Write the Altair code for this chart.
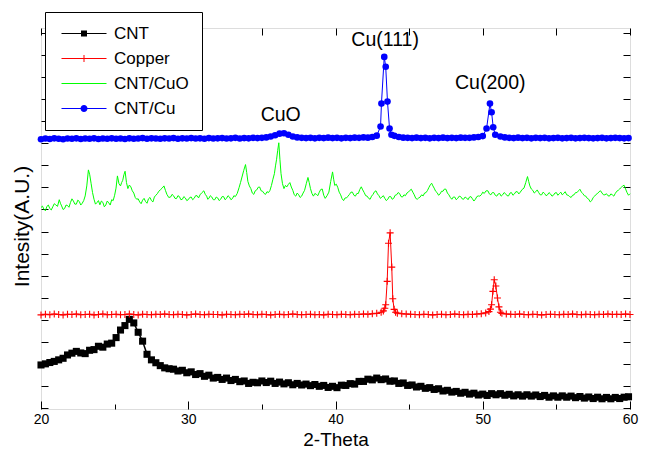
import altair as alt
import numpy as np
import pandas as pd

FONT = "Liberation Sans"
W, H = 589, 381

series_names = ["CNT", "Copper", "CNT/CuO", "CNT/Cu"]
series_colors = ["#000000", "#ff0000", "#00ff00", "#0000ff"]

x_major = [20, 30, 40, 50, 60]
x_minor = [25, 35, 45, 55]
x_top = [20, 25, 30, 35, 40, 45, 50, 55, 60]
y_ticks = [-0.1, 0.89, 1.89, 2.88, 3.87, 4.87, 5.86, 6.85, 7.85, 8.84, 9.83,
           10.83, 11.82, 12.81, 13.81, 14.8, 15.79, 16.79]


def grid(a, b, s):
    return [round(float(v), 2) for v in np.arange(a, b + s / 2, s)]


# CNT (scan step 0.3 from 20.0)
cnt_y = [
    1.85, 1.90, 1.96, 2.01, 2.08, 2.15, 2.30, 2.38, 2.46, 2.39,
    2.36, 2.51, 2.54, 2.69, 2.65, 2.79, 2.83, 3.08, 3.42, 3.62,
    3.90, 3.74, 3.32, 2.92, 2.33, 2.08, 1.95, 1.82, 1.72, 1.68,
    1.66, 1.58, 1.61, 1.50, 1.54, 1.42, 1.46, 1.34, 1.39, 1.26,
    1.29, 1.20, 1.26, 1.15, 1.20, 1.10, 1.13, 1.02, 1.07, 1.05,
    1.13, 1.06, 1.12, 1.02, 1.08, 1.00, 1.05, 0.96, 1.02, 0.95,
    0.99, 0.92, 0.97, 0.89, 0.93, 0.84, 0.89, 0.83, 0.94, 0.93,
    1.01, 0.99, 1.11, 1.11, 1.21, 1.18, 1.26, 1.19, 1.22, 1.12,
    1.13, 1.02, 1.04, 0.93, 0.95, 0.86, 0.89, 0.80, 0.83, 0.75,
    0.78, 0.68, 0.71, 0.63, 0.66, 0.58, 0.62, 0.54, 0.58, 0.50,
    0.54, 0.48, 0.56, 0.51, 0.56, 0.49, 0.53, 0.46, 0.51, 0.45,
    0.51, 0.45, 0.50, 0.43, 0.48, 0.40, 0.46, 0.40, 0.46, 0.40,
    0.45, 0.38, 0.43, 0.36, 0.41, 0.34, 0.40, 0.33, 0.39, 0.33,
    0.39, 0.34, 0.40, 0.42,
]
cnt_x = grid(20.0, 59.9, 0.3)

# Copper
cu_a_y = [
    4.10, 4.13, 4.11, 4.14, 4.12, 4.10, 4.13, 4.12, 4.14, 4.11,
    4.12, 4.13, 4.10, 4.12, 4.14, 4.11, 4.12, 4.13, 4.11, 4.12,
    4.14, 4.12, 4.10, 4.13, 4.12, 4.11, 4.13, 4.12, 4.14, 4.12,
    4.11, 4.13, 4.12, 4.10, 4.12, 4.14, 4.12, 4.11, 4.13, 4.12,
    4.12, 4.10, 4.13, 4.12, 4.11, 4.13, 4.12, 4.14, 4.12, 4.11,
    4.13, 4.12, 4.10, 4.12, 4.13, 4.11, 4.12, 4.14, 4.12, 4.11,
    4.12, 4.13, 4.11, 4.12, 4.10, 4.13, 4.12, 4.11, 4.13, 4.12,
    4.11, 4.13, 4.12, 4.14, 4.13, 4.15, 4.17, 4.22,
]
cu_p1_x = [43.25, 43.35, 43.41, 43.51, 43.60, 43.71, 43.82, 43.89, 43.98, 44.08]
cu_p1_y = [4.28, 4.40, 4.56, 5.61, 7.32, 7.79, 6.25, 4.83, 4.35, 4.22]
cu_b_y = [4.18, 4.15, 4.14, 4.13, 4.12, 4.11, 4.13, 4.12, 4.10, 4.12, 4.13,
          4.11, 4.12, 4.14, 4.12, 4.11, 4.13, 4.12, 4.14, 4.15, 4.19]
cu_p2_x = [50.42, 50.52, 50.60, 50.69, 50.78, 50.89, 51.00, 51.10, 51.20]
cu_p2_y = [4.25, 4.36, 4.56, 5.16, 5.68, 5.40, 4.86, 4.46, 4.22]
cu_c_y = [4.17, 4.14, 4.13, 4.12, 4.14, 4.12, 4.11, 4.13, 4.12, 4.10,
          4.12, 4.13, 4.12, 4.11, 4.13, 4.12, 4.14, 4.12, 4.11, 4.13,
          4.12, 4.11, 4.13, 4.12, 4.14, 4.12, 4.13, 4.12, 4.14, 4.12]

# CNT/CuO (main readings)
cuo_x = [
    20.0, 20.2, 20.4, 20.6, 20.8, 21.0, 21.24, 21.4, 21.6, 21.8,
    22.0, 22.2, 22.4, 22.6, 22.8, 23.0, 23.22, 23.4, 23.6, 23.8,
    24.0, 24.2, 24.4, 24.6, 24.8, 25.0, 25.19, 25.4, 25.55, 25.71,
    25.9, 26.1, 26.3, 26.5, 26.7, 26.9, 27.1, 27.3, 27.5, 27.7,
    27.9, 28.1, 28.35, 28.55, 28.8, 29.0, 29.2, 29.4, 29.6, 29.8,
    30.0, 30.2, 30.4, 30.6, 30.8, 31.06, 31.25, 31.4, 31.6, 31.8,
    32.0, 32.2, 32.4, 32.6, 32.8, 33.0, 33.2, 33.45, 33.65, 33.89,
    34.05, 34.25, 34.45, 34.65, 34.85, 35.05, 35.25, 35.45, 35.65, 35.85,
    36.0, 36.15, 36.3, 36.5, 36.7, 36.9, 37.1, 37.3, 37.5, 37.7,
    37.9, 38.13, 38.3, 38.5, 38.7, 38.9, 39.1, 39.3, 39.55, 39.8,
    39.95, 40.15, 40.35, 40.55, 40.75, 40.95, 41.15, 41.35, 41.55, 41.75,
    41.95, 42.15, 42.35, 42.55, 42.75, 42.95, 43.15, 43.35, 43.55, 43.75,
    43.95, 44.15, 44.35, 44.55, 44.75, 44.95, 45.15, 45.35, 45.55, 45.75,
    45.95, 46.15, 46.35, 46.53, 46.7, 46.9, 47.1, 47.3, 47.5, 47.7,
    47.9, 48.1, 48.3, 48.5, 48.7, 48.9, 49.1, 49.3, 49.5, 49.7,
    49.9, 50.1, 50.35, 50.55, 50.75, 50.95, 51.15, 51.35, 51.55, 51.75,
    51.95, 52.15, 52.35, 52.55, 52.8, 53.04, 53.2, 53.4, 53.6, 53.8,
    54.0, 54.2, 54.4, 54.6, 54.8, 55.0, 55.2, 55.4, 55.6, 55.8,
    56.0, 56.2, 56.4, 56.6, 56.8, 57.0, 57.2, 57.4, 57.6, 57.8,
    58.0, 58.2, 58.4, 58.6, 58.8, 59.0, 59.2, 59.4, 59.6, 59.8,
    60.0,
]
cuo_y = [
    8.93, 8.85, 8.98, 8.88, 8.96, 9.05, 9.28, 9.00, 8.88, 9.02,
    9.15, 9.22, 9.08, 9.20, 9.12, 9.45, 10.62, 10.02, 9.30, 9.15,
    9.05, 9.16, 9.04, 9.14, 9.28, 9.48, 10.35, 9.90, 10.15, 10.56,
    9.78, 9.86, 9.58, 9.30, 9.18, 9.26, 9.20, 9.32, 9.24, 9.40,
    9.55, 9.72, 9.90, 9.52, 9.40, 9.46, 9.33, 9.42, 9.30, 9.36,
    9.28, 9.40, 9.34, 9.46, 9.50, 9.68, 9.44, 9.34, 9.40, 9.28,
    9.36, 9.30, 9.42, 9.34, 9.40, 9.33, 9.42, 9.82, 10.30, 10.86,
    10.10, 9.78, 9.52, 9.72, 9.85, 9.66, 9.52, 9.60, 9.92, 10.45,
    11.10, 11.84, 10.45, 9.78, 9.86, 10.05, 9.70, 9.44, 9.50, 9.44,
    9.70, 10.28, 9.78, 9.44, 9.52, 9.62, 9.76, 9.34, 9.62, 10.53,
    9.92, 9.84, 9.50, 9.24, 9.36, 9.52, 9.62, 9.44, 9.56, 9.86,
    9.60, 9.44, 9.30, 9.52, 9.68, 9.46, 9.40, 9.34, 9.30, 9.42,
    9.34, 9.50, 9.56, 9.40, 9.46, 9.62, 9.75, 9.50, 9.30, 9.40,
    9.45, 9.60, 9.84, 10.02, 9.80, 9.60, 9.54, 9.66, 9.75, 9.50,
    9.30, 9.40, 9.34, 9.42, 9.30, 9.36, 9.40, 9.32, 9.30, 9.45,
    9.50, 9.56, 9.68, 9.50, 9.60, 9.44, 9.56, 9.50, 9.55, 9.45,
    9.60, 9.54, 9.64, 9.62, 9.80, 10.32, 9.90, 9.70, 9.64, 9.60,
    9.50, 9.56, 9.50, 9.54, 9.48, 9.60, 9.55, 9.50, 9.64, 9.48,
    9.38, 9.50, 9.60, 9.75, 9.55, 9.44, 9.30, 9.24, 9.44, 9.56,
    9.68, 9.50, 9.55, 9.44, 9.50, 9.56, 9.70, 9.83, 9.93, 9.60,
    9.55,
]
# CNT/CuO readings between the main readings (noise)
cuo_mid_y = [
    8.99, 8.78, 9.04, 8.82, 9.10, 8.98, 9.12, 8.84, 9.04, 8.94,
    9.32, 9.08, 9.26, 9.04, 9.24, 9.90, 10.40, 9.60, 9.08, 9.24,
    9.22, 8.96, 9.22, 9.04, 9.24, 9.80, 10.00, 10.05, 10.40, 10.05,
    9.94, 9.68, 9.38, 9.32, 9.10, 9.34, 9.12, 9.38, 9.18, 9.48,
    9.66, 9.80, 9.70, 9.38, 9.52, 9.34, 9.46, 9.28, 9.42, 9.24,
    9.38, 9.28, 9.46, 9.36, 9.60, 9.52, 9.30, 9.46, 9.28, 9.40,
    9.24, 9.42, 9.28, 9.46, 9.28, 9.46, 9.56, 10.05, 10.60, 10.50,
    9.90, 9.58, 9.68, 9.84, 9.68, 9.56, 9.64, 9.70, 10.20, 10.80,
    11.50, 11.10, 10.00, 9.92, 9.97, 9.85, 9.50, 9.58, 9.38, 9.58,
    10.00, 10.05, 9.56, 9.56, 9.46, 9.74, 9.48, 9.46, 10.10, 10.20,
    9.98, 9.62, 9.32, 9.36, 9.44, 9.62, 9.48, 9.56, 9.74, 9.72,
    9.46, 9.34, 9.44, 9.64, 9.54, 9.34, 9.46, 9.24, 9.42, 9.30,
    9.48, 9.60, 9.42, 9.50, 9.58, 9.70, 9.62, 9.34, 9.36, 9.50,
    9.58, 9.70, 9.95, 9.90, 9.66, 9.48, 9.66, 9.76, 9.58, 9.38,
    9.40, 9.28, 9.44, 9.32, 9.40, 9.28, 9.42, 9.22, 9.42, 9.44,
    9.62, 9.68, 9.54, 9.60, 9.48, 9.54, 9.44, 9.60, 9.46, 9.58,
    9.48, 9.64, 9.54, 9.74, 10.05, 10.10, 9.76, 9.58, 9.72, 9.50,
    9.62, 9.46, 9.60, 9.44, 9.58, 9.48, 9.62, 9.56, 9.50, 9.42,
    9.48, 9.60, 9.68, 9.62, 9.46, 9.34, 9.18, 9.38, 9.52, 9.64,
    9.58, 9.50, 9.46, 9.54, 9.44, 9.66, 9.76, 9.90, 9.76, 9.48,
]

# CNT/Cu
cnc_a_y = [
    12.00, 12.03, 12.01, 12.04, 12.02, 12.00, 12.03, 12.02, 12.04, 12.01,
    12.03, 12.02, 12.04, 12.01, 12.03, 12.02, 12.04, 12.02, 12.03, 12.01,
    12.04, 12.02, 12.03, 12.05, 12.02, 12.04, 12.03, 12.02, 12.04, 12.03,
    12.05, 12.02, 12.04, 12.03, 12.05, 12.03, 12.04, 12.02, 12.05, 12.03,
    12.04, 12.05, 12.03, 12.04, 12.06, 12.03, 12.05, 12.04, 12.06, 12.05,
    12.06, 12.08, 12.12, 12.18, 12.25, 12.27, 12.20, 12.12, 12.08, 12.06,
    12.05, 12.06, 12.04, 12.06, 12.05, 12.07, 12.05, 12.06, 12.04, 12.06,
    12.05, 12.07, 12.06, 12.08, 12.07, 12.10, 12.16,
]
cnc_p1_x = [43.06, 43.12, 43.31, 43.41, 43.53, 43.67, 43.80]
cnc_p1_y = [12.57, 13.60, 15.70, 15.26, 13.69, 12.48, 12.20]
cnc_b_y = [12.15, 12.10, 12.07, 12.06, 12.05, 12.07, 12.05, 12.06, 12.04, 12.06,
           12.05, 12.07, 12.05, 12.06, 12.05, 12.07, 12.06, 12.06, 12.08, 12.10, 12.14]
cnc_p2_x = [50.26, 50.49, 50.60, 50.71, 50.85]
cnc_p2_y = [12.48, 13.60, 13.21, 12.54, 12.20]
cnc_c_y = [12.12, 12.08, 12.06, 12.05, 12.07, 12.05, 12.06, 12.04, 12.06, 12.05,
           12.06, 12.04, 12.05, 12.06, 12.04, 12.05, 12.06, 12.04, 12.05, 12.06,
           12.05, 12.04, 12.05, 12.06, 12.04, 12.05, 12.06, 12.05, 12.04, 12.05]

# peak labels
ann_text = ["CuO", "Cu(111)", "Cu(200)"]
ann_x = [36.28, 43.37, 50.51]
ann_y = [12.84, 16.17, 14.26]

# ---- tables ----
assert len(cnt_x) == len(cnt_y)
cnt_df = pd.DataFrame({"x": cnt_x, "y": cnt_y})

cu_x = grid(20.0, 43.1, 0.3) + cu_p1_x + grid(44.2, 50.2, 0.3) + cu_p2_x + grid(51.3, 60.0, 0.3)
cu_yv = cu_a_y + cu_p1_y + cu_b_y + cu_p2_y + cu_c_y
assert len(cu_x) == len(cu_yv), (len(cu_x), len(cu_yv))
cu_df = pd.DataFrame({"x": cu_x, "y": cu_yv})

assert len(cuo_x) == len(cuo_y) and len(cuo_mid_y) == len(cuo_x) - 1
cuo_mid_x = [round((a + b) / 2, 3) for a, b in zip(cuo_x[:-1], cuo_x[1:])]
cuo_df = pd.DataFrame({"x": cuo_x + cuo_mid_x, "y": cuo_y + cuo_mid_y}).sort_values("x")

cnc_x = grid(20.0, 42.8, 0.3) + cnc_p1_x + grid(44.0, 50.0, 0.3) + cnc_p2_x + grid(51.2, 59.9, 0.3)
cnc_yv = cnc_a_y + cnc_p1_y + cnc_b_y + cnc_p2_y + cnc_c_y
assert len(cnc_x) == len(cnc_yv), (len(cnc_x), len(cnc_yv))
cnc_df = pd.DataFrame({"x": cnc_x, "y": cnc_yv})

ann_df = pd.DataFrame({"x": ann_x, "y": ann_y, "t": ann_text})
leg_df = pd.DataFrame({"series": series_names})

# ---- scales & axes ----
xs = alt.Scale(domain=[20, 60], nice=False, zero=False)
ys = alt.Scale(domain=[-0.13, 17.0], nice=False, zero=False)

common = dict(grid=False, domain=False)
ax_x_labels = alt.Axis(orient="bottom", values=x_major, ticks=False, tickSize=0,
                       labelFont=FONT, labelFontSize=14, labelColor="black",
                       labelPadding=3, labelFlush=False, format="d", title="2-Theta",
                       titleFont=FONT, titleFontSize=19, titleFontWeight="normal",
                       titleColor="black", titleBaseline="alphabetic", titleY=36, **common)
ax_x_bot_major = alt.Axis(orient="top", offset=-H, values=x_major, labels=False,
                          tickSize=8, tickColor="black", tickWidth=1, title=None, **common)
ax_x_bot_minor = alt.Axis(orient="top", offset=-H, values=x_minor, labels=False,
                          tickSize=5, tickColor="black", tickWidth=1, title=None, **common)
ax_x_top = alt.Axis(orient="bottom", offset=-H, values=x_top, labels=False,
                    tickSize=7, tickColor="black", tickWidth=1, title=None, **common)
ax_y_title = alt.Axis(orient="left", labels=False, ticks=False, title="Intesity(A.U.)",
                      titleFont=FONT, titleFontSize=21, titleFontWeight="normal",
                      titleColor="black", titlePadding=9, titleY=198, **common)
ax_y_left = alt.Axis(orient="right", offset=-W, values=y_ticks, labels=False,
                     tickSize=7, tickColor="black", tickWidth=1, title=None, **common)
ax_y_right = alt.Axis(orient="left", offset=-W, values=y_ticks, labels=False,
                      tickSize=7, tickColor="black", tickWidth=1, title=None, **common)


def enc(ax_x=None, ax_y=None):
    return dict(x=alt.X("x:Q", scale=xs, axis=ax_x), y=alt.Y("y:Q", scale=ys, axis=ax_y))


PLUS = "M-1,0H1M0,-1V1"

cnt_line = alt.Chart(cnt_df).mark_line(color="black", strokeWidth=1.5).encode(**enc(ax_x_labels, ax_y_title))
cnt_pts = alt.Chart(cnt_df).mark_point(shape="square", filled=True, size=50, color="black",
                                       opacity=1).encode(**enc(ax_x_bot_major, ax_y_left))
cu_line = alt.Chart(cu_df).mark_line(color="#ff0000", strokeWidth=1).encode(**enc(ax_x_bot_minor, ax_y_right))
cu_pts = alt.Chart(cu_df).mark_point(shape=PLUS, filled=False, size=49, color="#ff0000",
                                     strokeWidth=1.1, opacity=1).encode(**enc(ax_x_top))
cuo_line = alt.Chart(cuo_df).mark_line(color="#00ff00", strokeWidth=1).encode(**enc())
cnc_line = alt.Chart(cnc_df).mark_line(color="#0000ff", strokeWidth=1).encode(**enc())
cnc_pts = alt.Chart(cnc_df).mark_circle(size=44, color="#0000ff", opacity=1).encode(**enc())
ann = alt.Chart(ann_df).mark_text(font=FONT, fontSize=19.5, color="black", baseline="alphabetic",
                                  align="center").encode(text="t:N", **enc())

# legend glyphs: line through marker
G_LINE = "M-1,-0.1H8V0.1H-1Z"
glyphs = [
    G_LINE + "M2.9,-0.6H4.1V0.6H2.9Z",
    G_LINE + "M3.4,-0.7H3.6V0.7H3.4Z",
    G_LINE,
    G_LINE + "M2.8,0A0.7,0.7,0,1,1,4.2,0A0.7,0.7,0,1,1,2.8,0Z",
]
leg = alt.Legend(title=None, orient="none", legendX=4, legendY=-16, padding=13,
                 strokeColor="black", fillColor="white", labelFont=FONT, labelFontSize=17,
                 labelColor="black", labelOffset=39, symbolSize=100, symbolStrokeWidth=0,
                 rowPadding=7, symbolOpacity=1)
legend_layer = alt.Chart(leg_df).transform_filter("false").mark_point(filled=True, opacity=1).encode(
    color=alt.Color("series:N", scale=alt.Scale(domain=series_names, range=series_colors), legend=leg),
    shape=alt.Shape("series:N", scale=alt.Scale(domain=series_names, range=glyphs), legend=leg),
)

chart = alt.layer(
    cnt_line, cnt_pts, cu_line, cu_pts, cuo_line, cnc_line, cnc_pts, ann, legend_layer
).resolve_axis(x="independent", y="independent").properties(
    width=W, height=H,
    autosize=alt.AutoSizeParams(type="none"),
    padding={"left": 33, "top": 20, "right": 9, "bottom": 40},
).configure_view(stroke="black", strokeWidth=1).configure(background="white")

chart.save("out.html", embed_options={"renderer": "svg", "actions": False})
